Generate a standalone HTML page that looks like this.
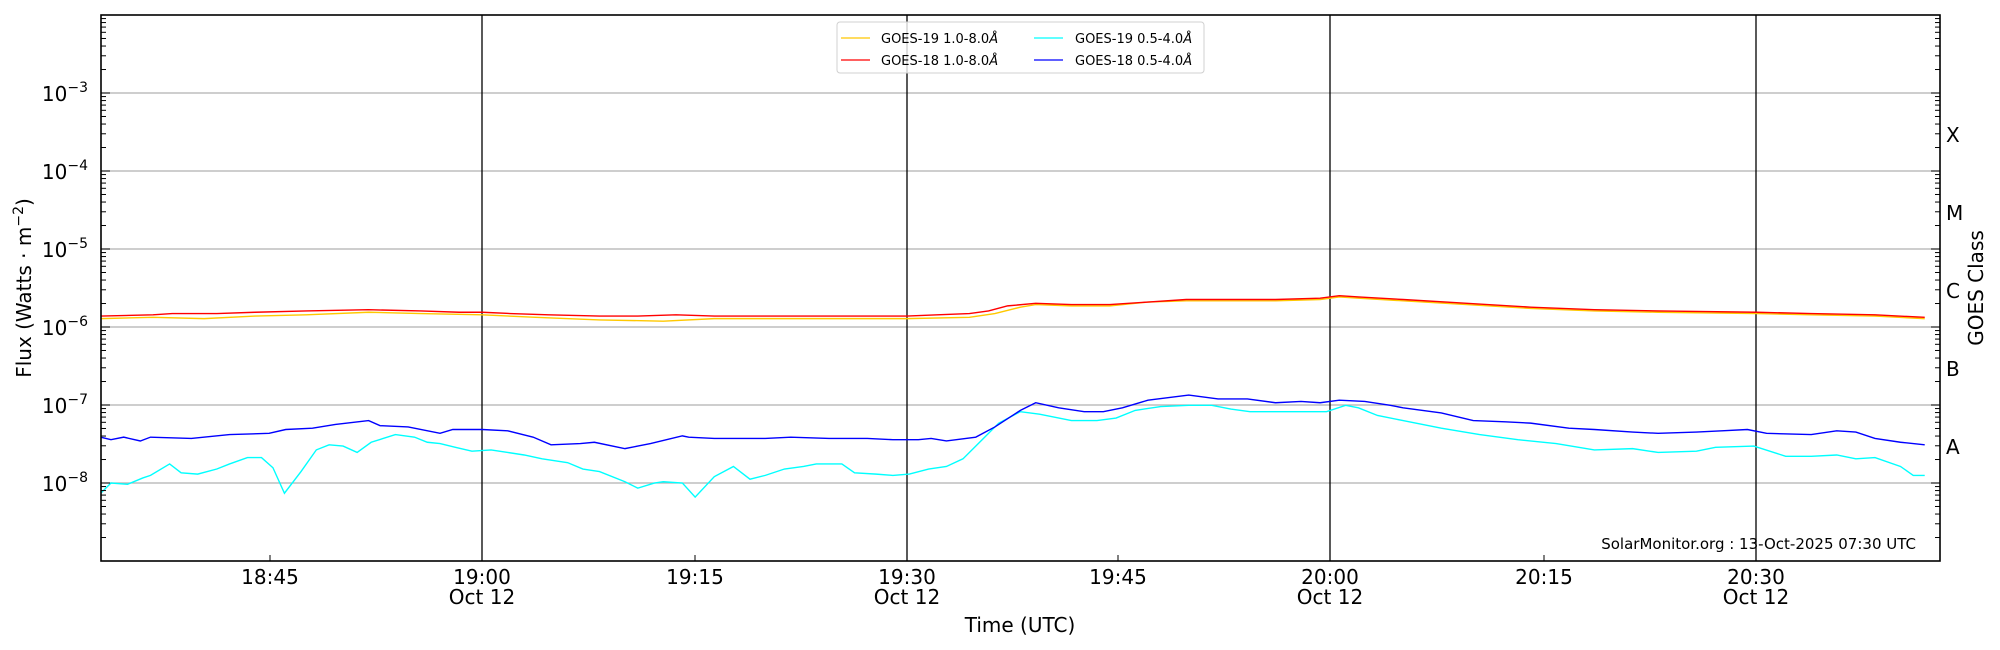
<!DOCTYPE html>
<html><head><meta charset="utf-8"><style>
body{margin:0;background:#fff;}
svg{display:block;font-family:"DejaVu Sans","Liberation Sans",sans-serif;}
</style></head><body>
<svg id="s" width="2000" height="650" viewBox="0 0 2000 650" xmlns="http://www.w3.org/2000/svg">
<g id="grid" stroke="#b0b0b0" stroke-width="1.2"></g>
<g stroke="#000" stroke-width="1.3">
<line x1="482" y1="15" x2="482" y2="561"/><line x1="907" y1="15" x2="907" y2="561"/>
<line x1="1330" y1="15" x2="1330" y2="561"/><line x1="1756" y1="15" x2="1756" y2="561"/>
</g>
<g transform="scale(1.2755,1.2745)" fill="none" stroke-width="1.1">
<polyline stroke="#ffc800" points="79,250 120,249 160,250 200,248 240,247 289,245 330,246 378,247 420,249 470,251 520,252 560,250 620,250 680,250 711,250 760,249 780,246 800,241 812,239 840,240 870,240 900,237 930,236 960,236 1000,236 1035,235 1050,233 1065,234 1100,236 1150,239 1200,242 1250,244 1300,245 1377,246 1420,247 1470,248 1509,250"/>
<polyline stroke="#ff0000" points="79,248 120,247 135,246 170,246 200,245 240,244 289,243 330,244 360,245 378,245 400,246 430,247 470,248 500,248 530,247 560,248 620,248 680,248 711,248 735,247 760,246 775,244 790,240 812,238 840,239 870,239 900,237 930,235 960,235 1000,235 1035,234 1050,232 1065,233 1100,235 1150,238 1200,241 1250,243 1300,244 1377,245 1420,246 1470,247 1509,249"/>
<polyline stroke="#00ffff" points="79,387 87,379 100,380 112,375 118,373 133,364 142,371 155,372 170,368 180,364 194,359 205,359 214,367 223,387 236,370 248,353 258,349 269,350 280,355 291,347 310,341 325,343 335,347 345,348 357,351 370,354 385,353 398,355 411,357 425,360 445,363 457,368 470,370 490,378 500,383 513,379 520,378 535,379 545,390 560,374 575,366 588,376 600,373 615,368 630,366 640,364 660,364 670,371 687,372 700,373 713,372 728,368 742,366 755,360 770,345 783,332 800,323 815,325 840,330 860,330 875,328 890,322 910,319 932,318 950,318 965,321 980,323 1000,323 1040,323 1055,318 1065,320 1080,326 1100,330 1130,336 1160,341 1190,345 1220,348 1250,353 1280,352 1300,355 1330,354 1345,351 1375,350 1400,358 1420,358 1440,357 1455,360 1470,359 1490,366 1500,373 1509,373"/>
<polyline stroke="#0000ff" points="79,343 87,345 97,343 110,346 118,343 150,344 180,341 211,340 224,337 245,336 263,333 289,330 298,334 320,335 345,340 355,337 378,337 398,338 418,343 432,349 455,348 466,347 490,352 500,350 510,348 535,342 540,343 560,344 580,344 600,344 620,343 650,344 680,344 700,345 720,345 730,344 742,346 765,343 780,335 800,322 812,316 830,320 850,323 865,323 880,320 900,314 932,310 955,313 978,313 1000,316 1020,315 1035,316 1050,314 1070,315 1090,318 1100,320 1130,324 1155,330 1180,331 1200,332 1230,336 1250,337 1280,339 1300,340 1330,339 1350,338 1370,337 1385,340 1420,341 1440,338 1455,339 1470,344 1490,347 1509,349"/>
</g>
<g id="ticks" stroke="#000" stroke-width="1"></g>
<rect x="101" y="15" width="1839" height="546" fill="none" stroke="#000" stroke-width="1.6"/>
<g font-size="20" text-anchor="end" id="ylab"></g>
<g font-size="20" text-anchor="start">
<text x="1946" y="142">X</text><text x="1946" y="220">M</text><text x="1946" y="298">C</text><text x="1946" y="376">B</text><text x="1946" y="454">A</text>
</g>
<g font-size="20" text-anchor="middle">
<text x="270" y="584">18:45</text>
<text x="482" y="584">19:00</text><text x="482" y="604">Oct 12</text>
<text x="695" y="584">19:15</text>
<text x="907" y="584">19:30</text><text x="907" y="604">Oct 12</text>
<text x="1118" y="584">19:45</text>
<text x="1330" y="584">20:00</text><text x="1330" y="604">Oct 12</text>
<text x="1544" y="584">20:15</text>
<text x="1756" y="584">20:30</text><text x="1756" y="604">Oct 12</text>
<text x="1020" y="632">Time (UTC)</text>
</g>
<text font-size="20" text-anchor="middle" transform="translate(31,288) rotate(-90)">Flux (Watts · m<tspan dy="-8" font-size="14">−2</tspan><tspan dy="8">)</tspan></text>
<text font-size="20" text-anchor="middle" transform="translate(1983,288) rotate(-90)">GOES Class</text>
<text font-size="15" x="1916" y="549" text-anchor="end">SolarMonitor.org : 13-Oct-2025 07:30 UTC</text>
<g>
<rect x="837" y="22" width="367" height="51" rx="3" fill="#fff" fill-opacity="0.8" stroke="#d0d0d0"/>
<line x1="841" y1="38" x2="870" y2="38" stroke="#ffc800" stroke-width="1.3"/>
<line x1="841" y1="60" x2="870" y2="60" stroke="#ff0000" stroke-width="1.3"/>
<line x1="1034" y1="38" x2="1063" y2="38" stroke="#00ffff" stroke-width="1.3"/>
<line x1="1034" y1="60" x2="1063" y2="60" stroke="#0000ff" stroke-width="1.3"/>
<g font-size="13"><text x="881" y="43">GOES-19 1.0-8.0<tspan font-style="italic">Å</tspan></text>
<text x="881" y="65">GOES-18 1.0-8.0<tspan font-style="italic">Å</tspan></text>
<text x="1075" y="43">GOES-19 0.5-4.0<tspan font-style="italic">Å</tspan></text>
<text x="1075" y="65">GOES-18 0.5-4.0<tspan font-style="italic">Å</tspan></text></g>
</g>
</svg>
<script>
(function(){
var ns="http://www.w3.org/2000/svg";
function el(p,t,a,txt){var e=document.createElementNS(ns,t);for(var k in a)e.setAttribute(k,a[k]);if(txt)e.innerHTML=txt;document.getElementById(p).appendChild(e);return e;}
var T0=15,dec=78;
for(var d=0;d<7;d++){var base=T0+dec*(d+1);
 for(var k=1;k<=9;k++){var y=base-dec*Math.log10(k);var L=k==1?9:5;
  if(k==1&&d==6)continue;
  el("ticks","line",{x1:101,y1:y,x2:101+L,y2:y});el("ticks","line",{x1:1940,y1:y,x2:1940-L,y2:y});}
}
for(var e=3;e<=8;e++){var y=T0+dec*(e-2);el("grid","line",{x1:101,y1:y,x2:1940,y2:y});
 el("ylab","text",{x:88,y:y+8},'10<tspan dy="-9" font-size="14">−'+e+'</tspan>');}
[270,482,695,907,1118,1330,1544,1756].forEach(function(x){el("ticks","line",{x1:x,y1:561,x2:x,y2:555});});
})();
</script>
</body></html>
